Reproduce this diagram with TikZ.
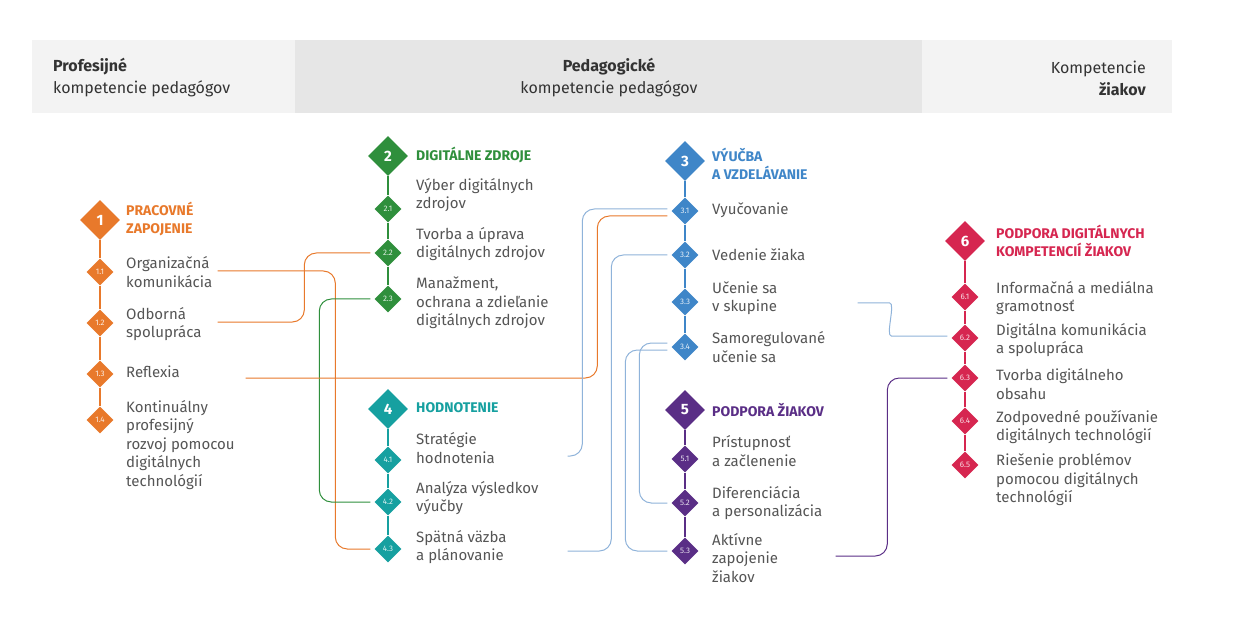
\documentclass[tikz,border=0pt]{standalone}
\usepackage{fontspec}
\setmainfont{Fira Sans}
\usetikzlibrary{shapes.geometric,calc}
\definecolor{cO}{HTML}{E8792B}
\definecolor{cG}{HTML}{2F8F3C}
\definecolor{cB}{HTML}{3F86C8}
\definecolor{cT}{HTML}{16A0A0}
\definecolor{cP}{HTML}{5A2E86}
\definecolor{cR}{HTML}{D62650}
\definecolor{cLB}{HTML}{8FB3DA}
\definecolor{txt}{HTML}{555555}
\definecolor{hd1}{HTML}{F3F3F3}
\definecolor{hd2}{HTML}{E6E6E6}
\tikzset{
 bigd/.style={diamond,fill=#1,minimum size=40pt,inner sep=0pt,text=white,font=\bfseries\fontsize{15}{15}\selectfont},
 smd/.style={diamond,fill=#1,minimum size=27pt,inner sep=0pt,text=white!85!#1,font=\fontsize{8}{8}\selectfont},
 ttl/.style={anchor=west,align=left,text=#1,font=\bfseries\fontsize{14}{17.5}\selectfont,inner sep=0pt},
 lbl/.style={anchor=west,align=left,text=txt,font=\fontsize{15}{18.5}\selectfont,inner sep=0pt},
 spine/.style={draw=#1,line width=1.2pt},
 conn/.style={draw=#1,line width=1pt,rounded corners=12pt},
 hdr/.style={text=black!80,font=\fontsize{16}{22}\selectfont,inner sep=0pt}
}
\begin{document}
\begin{tikzpicture}[x=1pt,y=-1pt]
\useasboundingbox (0,0) rectangle (1243,631);
\fill[white] (0,0) rectangle (1243,631);
% header
\fill[hd1] (32,40) rectangle (295,113);
\fill[hd2] (295,40) rectangle (922,113);
\fill[hd1] (922,40) rectangle (1172,113);
\node[hdr,anchor=west,align=left] (h1) at (53,78) {\textbf{Profesijné}\\kompetencie pedagógov};
\node[hdr,align=center] (h2) at (609,78) {\textbf{Pedagogické}\\kompetencie pedagógov};
\node[hdr,anchor=east,align=right] (h3) at (1146,78) {Kompetencie\\\textbf{žiakov}};
% column 1
\node[bigd=cO] (d1) at (100,220) {1};
\node[smd=cO] (d11) at (100,272) {1.1};
\node[smd=cO] (d12) at (100,323) {1.2};
\node[smd=cO] (d13) at (100,374) {1.3};
\node[smd=cO] (d14) at (100,420) {1.4};
\draw[spine=cO] (d1.south)--(d11.north) (d11.south)--(d12.north) (d12.south)--(d13.north) (d13.south)--(d14.north);
\node[ttl=cO] (t1) at (126,219) {PRACOVNÉ\\ZAPOJENIE};
\node[lbl] (t11) at (126,272) {Organizačná\\komunikácia};
\node[lbl] (t12) at (126,324) {Odborná\\spolupráca};
\node[lbl] (t13) at (126,372) {Reflexia};
\node[lbl] (t14) at (126,445) {Kontinuálny\\profesijný\\rozvoj pomocou\\digitálnych\\technológií};
% column 2
\node[bigd=cG] (d2) at (388,156) {2};
\node[smd=cG] (d21) at (388,209) {2.1};
\node[smd=cG] (d22) at (388,253) {2.2};
\node[smd=cG] (d23) at (388,299) {2.3};
\draw[spine=cG] (d2.south)--(d21.north) (d21.south)--(d22.north) (d22.south)--(d23.north);
\node[ttl=cG] (t2) at (416,155) {DIGITÁLNE ZDROJE};
\node[lbl] (t21) at (416,195) {Výber digitálnych\\zdrojov};
\node[lbl] (t22) at (416,244) {Tvorba a úprava\\digitálnych zdrojov};
\node[lbl] (t23) at (416,303) {Manažment,\\ochrana a zdieľanie\\digitálnych zdrojov};
\node[bigd=cT] (d4) at (388,409) {4};
\node[smd=cT] (d41) at (388,460) {4.1};
\node[smd=cT] (d42) at (388,502) {4.2};
\node[smd=cT] (d43) at (388,549) {4.3};
\draw[spine=cT] (d4.south)--(d41.north) (d41.south)--(d42.north) (d42.south)--(d43.north);
\node[ttl=cT] (t4) at (416,408) {HODNOTENIE};
\node[lbl] (t41) at (416,448) {Stratégie\\hodnotenia};
\node[lbl] (t42) at (416,498) {Analýza výsledkov\\výučby};
\node[lbl] (t43) at (416,547) {Spätná väzba\\a plánovanie};
% column 3
\node[bigd=cB] (d3) at (685,161) {3};
\node[smd=cB] (d31) at (685,211) {3.1};
\node[smd=cB] (d32) at (685,255) {3.2};
\node[smd=cB] (d33) at (685,302) {3.3};
\node[smd=cB] (d34) at (685,347) {3.4};
\draw[spine=cB] (d3.south)--(d31.north) (d31.south)--(d32.north) (d32.south)--(d33.north) (d33.south)--(d34.north);
\node[ttl=cB] (t3) at (712,164) {VÝUČBA\\A VZDELÁVANIE};
\node[lbl] (t31) at (712,210) {Vyučovanie};
\node[lbl] (t32) at (712,255) {Vedenie žiaka};
\node[lbl] (t33) at (712,298) {Učenie sa\\v skupine};
\node[lbl] (t34) at (712,347) {Samoregulované\\učenie sa};
\node[bigd=cP] (d5) at (685,410) {5};
\node[smd=cP] (d51) at (685,459) {5.1};
\node[smd=cP] (d52) at (685,503) {5.2};
\node[smd=cP] (d53) at (685,551) {5.3};
\draw[spine=cP] (d5.south)--(d51.north) (d51.south)--(d52.north) (d52.south)--(d53.north);
\node[ttl=cP] (t5) at (712,410) {PODPORA ŽIAKOV};
\node[lbl] (t51) at (712,451) {Prístupnosť\\a začlenenie};
\node[lbl] (t52) at (712,503) {Diferenciácia\\a personalizácia};
\node[lbl] (t53) at (712,558) {Aktívne\\zapojenie\\žiakov};
% column 6
\node[bigd=cR] (d6) at (965,241) {6};
\node[smd=cR] (d61) at (965,297) {6.1};
\node[smd=cR] (d62) at (965,338) {6.2};
\node[smd=cR] (d63) at (965,378) {6.3};
\node[smd=cR] (d64) at (965,421) {6.4};
\node[smd=cR] (d65) at (965,465) {6.5};
\draw[spine=cR] (d6.south)--(d61.north) (d61.south)--(d62.north) (d62.south)--(d63.north) (d63.south)--(d64.north) (d64.south)--(d65.north);
\node[ttl=cR] (t6) at (996,241) {PODPORA DIGITÁLNYCH\\KOMPETENCIÍ ŽIAKOV};
\node[lbl] (t61) at (996,298) {Informačná a mediálna\\gramotnosť};
\node[lbl] (t62) at (996,340) {Digitálna komunikácia\\a spolupráca};
\node[lbl] (t63) at (996,384) {Tvorba digitálneho\\obsahu};
\node[lbl] (t64) at (996,427) {Zodpovedné používanie\\digitálnych technológií};
\node[lbl] (t65) at (996,480) {Riešenie problémov\\pomocou digitálnych\\technológií};
% connectors
\draw[conn=cO] ([xshift=104pt,yshift=1pt]d11.east) -| ([xshift=-39pt]d43.west) -- ([xshift=-4pt]d43.west);
\draw[conn=cO] ([xshift=104pt,yshift=1pt]d12.east) -| ([xshift=-70pt]d22.west) -- ([xshift=-4pt]d22.west);
\draw[conn=cG] ([xshift=-4pt]d23.west) -| ([xshift=-55pt]d42.west) -- ([xshift=-4pt]d42.west);
\draw[conn=cO] ([xshift=132pt,yshift=-4pt]d13.east) -| ([xshift=-74pt,yshift=-5pt]d31.west) -- ([xshift=-4pt,yshift=-5pt]d31.west);
\draw[conn=cLB] ([xshift=166pt,yshift=4pt]d41.east) -| ([xshift=-89pt,yshift=2pt]d31.west) -- ([xshift=-4pt,yshift=2pt]d31.west);
\draw[conn=cLB] ([xshift=166pt,yshift=-2pt]d43.east) -| ([xshift=-60pt]d32.west) -- ([xshift=-4pt]d32.west);
\draw[conn=cLB] ([xshift=-4pt,yshift=4pt]d34.west) -| ([xshift=-32pt]d52.west) -- ([xshift=-4pt]d52.west);
\draw[conn=cLB] ([xshift=-4pt,yshift=-3pt]d34.west) -| ([xshift=-46pt]d53.west) -- ([xshift=-4pt]d53.west);
\draw[conn=cLB] ([xshift=159pt,yshift=-1pt]d33.east) -- ++(20,0) .. controls +(18,0) and +(-18,0) .. ([xshift=-48pt,yshift=2pt]d62.west) -- ([xshift=-4pt,yshift=2pt]d62.west);
\draw[conn=cP] ([xshift=137pt,yshift=-5pt]d53.east) -| ([xshift=-64pt]d63.west) -- ([xshift=-4pt]d63.west);
\end{tikzpicture}
\end{document}
